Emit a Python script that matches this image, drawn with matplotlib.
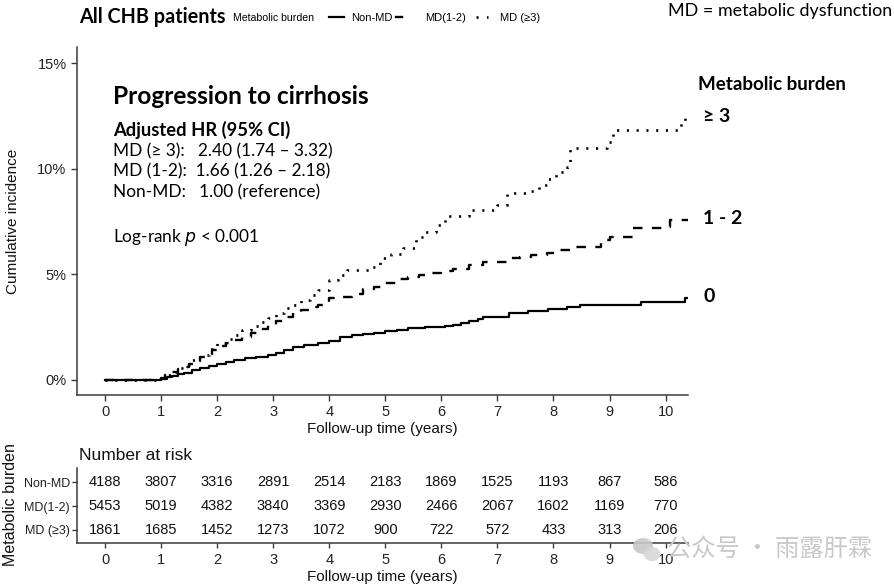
import matplotlib
matplotlib.use("Agg")
import matplotlib.pyplot as plt
from matplotlib.lines import Line2D
from matplotlib.patches import Ellipse
import numpy as np

# ---------------- data ----------------
years = [0, 1, 2, 3, 4, 5, 6, 7, 8, 9, 10]
groups = ["Non-MD", "MD(1-2)", "MD (\u22653)"]

nonmd_t = [0, 1.0, 1.1, 1.2, 1.3, 1.4, 1.55, 1.7, 1.85, 2.0,
           2.15, 2.3, 2.5, 2.7, 2.9, 3.05, 3.2, 3.35, 3.55, 3.8,
           4.0, 4.2, 4.4, 4.6, 4.8, 5.0, 5.2, 5.4, 5.7, 6.07,
           6.2, 6.35, 6.5, 6.65, 6.75, 7.2, 7.55, 7.9, 8.25, 8.47,
           9.57, 10.34]
nonmd_v = [0, 0.05, 0.12, 0.2, 0.28, 0.35, 0.45, 0.55, 0.65, 0.75,
           0.85, 0.95, 1.03, 1.1, 1.18, 1.28, 1.4, 1.58, 1.65, 1.74,
           1.85, 2.02, 2.13, 2.18, 2.23, 2.3, 2.38, 2.45, 2.5, 2.55,
           2.62, 2.7, 2.8, 2.9, 3.0, 3.16, 3.28, 3.35, 3.47, 3.55,
           3.7, 3.87]

md12_t = [0, 1.0, 1.07, 1.2, 1.3, 1.4, 1.5, 1.6, 1.7, 1.8,
          1.9, 2.0, 2.15, 2.3, 2.45, 2.6, 2.75, 2.9, 3.05, 3.2,
          3.35, 3.5, 3.65, 3.8, 4.0, 4.2, 4.4, 4.6, 4.8, 5.0,
          5.2, 5.4, 5.6, 5.8, 6.0, 6.2, 6.5, 6.75, 7.25, 7.4,
          7.6, 7.88, 8.1, 8.29, 8.84, 9.0, 9.41, 9.95, 10.07]
md12_v = [0, 0.1, 0.24, 0.38, 0.5, 0.63, 0.78, 0.92, 1.1, 1.25,
          1.42, 1.6, 1.75, 1.9, 2.05, 2.22, 2.4, 2.6, 2.8, 3.0,
          3.15, 3.3, 3.45, 3.55, 3.86, 3.94, 4.05, 4.3, 4.42, 4.6,
          4.77, 4.89, 4.98, 5.08, 5.17, 5.25, 5.44, 5.6, 5.76, 5.84,
          5.9, 6.0, 6.15, 6.31, 6.63, 6.78, 7.18, 7.26, 7.57]

md3_t = [0, 1.0, 1.07, 1.2, 1.3, 1.4, 1.55, 1.7, 1.85, 2.0,
         2.15, 2.3, 2.45, 2.6, 2.75, 2.9, 3.05, 3.2, 3.35, 3.5,
         3.65, 3.8, 4.0, 4.15, 4.31, 4.72, 4.9, 5.1, 5.31, 5.55,
         5.7, 5.9, 6.06, 6.5, 6.99, 7.17, 7.6, 7.75, 7.9, 8.05,
         8.24, 8.29, 8.95, 9.06, 10.28, 10.34]
md3_v = [0, 0.1, 0.25, 0.4, 0.55, 0.71, 0.95, 1.2, 1.45, 1.74,
         1.95, 2.15, 2.35, 2.55, 2.75, 2.95, 3.15, 3.39, 3.55, 3.79,
         4.0, 4.26, 4.73, 4.95, 5.2, 5.33, 5.76, 5.98, 6.23, 6.78,
         7.0, 7.34, 7.76, 8.05, 8.28, 8.83, 8.95, 9.23, 9.5, 9.86,
         10.1, 10.96, 11.28, 11.83, 12.22, 12.38]

end_time = 10.4

risk_nonmd = [4188, 3807, 3316, 2891, 2514, 2183, 1869, 1525, 1193, 867, 586]
risk_md12 = [5453, 5019, 4382, 3840, 3369, 2930, 2466, 2067, 1602, 1169, 770]
risk_md3 = [1861, 1685, 1452, 1273, 1072, 900, 722, 572, 433, 313, 206]

# ---------------- styling ----------------
W, H = 894, 586
fig = plt.figure(figsize=(W / 100, H / 100), dpi=100)
AX_COL = "#3a3a3a"
SANS = ["Liberation Sans", "DejaVu Sans"]
CAL = ["Lato", "DejaVu Sans"]

def fx(px):
    return px / W

def fy(py):
    return 1 - py / H

solid = dict(color="black", lw=1.6, linestyle="-")
dashed = dict(color="black", lw=1.7, linestyle=(0, (4.0, 4.0)))
dotted = dict(color="black", lw=1.9, linestyle=(0, (0.8, 2.9)))

# ---------------- main axes ----------------
ax = fig.add_axes([fx(77), fy(395), fx(688) - fx(77), fy(47) - fy(395)])
for t, v, st in [(nonmd_t, nonmd_v, solid), (md12_t, md12_v, dashed), (md3_t, md3_v, dotted)]:
    tt = list(t) + [end_time]
    vv = [x / 100 for x in v] + [v[-1] / 100]
    ax.plot(tt, vv, drawstyle="steps-post", **st)

ax.set_xlim(-0.5, 10.4)
ax.set_ylim(-0.0071, 0.1576)
ax.set_xticks(years)
ax.set_yticks([0, 0.05, 0.10, 0.15])
ax.set_yticklabels(["0%", "5%", "10%", "15%"])
for s in ["top", "right"]:
    ax.spines[s].set_visible(False)
for s in ["left", "bottom"]:
    ax.spines[s].set_color(AX_COL)
    ax.spines[s].set_linewidth(1.1)
ax.tick_params(axis="both", colors=AX_COL, length=4, width=1.0, labelcolor="#222222",
               labelsize=10.5)
for lab in ax.get_xticklabels() + ax.get_yticklabels():
    lab.set_family(SANS)
ax.set_xlabel("Follow-up time (years)", fontsize=11, family=SANS, labelpad=2, color="#111111")
ax.set_ylabel("Cumulative incidence", fontsize=11, family=SANS, color="#111111")
ax.yaxis.set_label_coords((20 - 77) / (688 - 77), 0.5)

# annotations in main plot
fig.text(fx(113), fy(97), "Progression to cirrhosis", fontsize=17.6, fontweight="bold",
         family=CAL, va="center", ha="left")
fig.text(fx(113), fy(130), "Adjusted HR (95% CI)", fontsize=13.2, fontweight="bold",
         family=CAL, va="center", ha="left")
fig.text(fx(113), fy(151), "MD (\u2265 3):   2.40 (1.74 \u2013 3.32)", fontsize=12.4,
         family=CAL, va="center", ha="left")
fig.text(fx(113), fy(171), "MD (1-2):  1.66 (1.26 \u2013 2.18)", fontsize=12.4,
         family=CAL, va="center", ha="left")
fig.text(fx(113), fy(192), "Non-MD:   1.00 (reference)", fontsize=12.4,
         family=CAL, va="center", ha="left")
fig.text(fx(113), fy(237), "Log-rank $\\it{p}$ < 0.001", fontsize=12.4,
         family=CAL, va="center", ha="left")

# right-side labels
fig.text(fx(698), fy(84), "Metabolic burden", fontsize=13.5, fontweight="bold",
         family=CAL, va="center", ha="left")
fig.text(fx(703), fy(116), "\u2265 3", fontsize=14, fontweight="bold",
         family=CAL, va="center", ha="left")
fig.text(fx(703), fy(218), "1 - 2", fontsize=14, fontweight="bold",
         family=CAL, va="center", ha="left")
fig.text(fx(703), fy(297), "0", fontsize=14, fontweight="bold",
         family=CAL, va="center", ha="left")

# title + legend strip
fig.text(fx(79), fy(17), "All CHB patients", fontsize=14.2, fontweight="bold",
         family=CAL, va="center", ha="left")
fig.text(fx(233), fy(18), "Metabolic burden", fontsize=7.6, family=SANS,
         va="center", ha="left")
fig.add_artist(Line2D([fx(329), fx(344)], [fy(17), fy(17)], transform=fig.transFigure, **solid))
fig.text(fx(351), fy(18), "Non-MD", fontsize=8, family=SANS, va="center", ha="left")
fig.add_artist(Line2D([fx(396), fx(402)], [fy(17), fy(17)], transform=fig.transFigure,
                      color="black", lw=1.7, linestyle="-"))
fig.text(fx(425), fy(18), "MD(1-2)", fontsize=8, family=SANS, va="center", ha="left")
fig.add_artist(Line2D([fx(476), fx(488)], [fy(17), fy(17)], transform=fig.transFigure,
                      color="black", lw=1.9, linestyle=(0, (0.8, 3.2))))
fig.text(fx(500), fy(18), "MD (\u22653)", fontsize=8, family=SANS, va="center", ha="left")

fig.text(fx(892), fy(11), "MD = metabolic dysfunction", fontsize=12.9, family=CAL,
         va="center", ha="right")

# ---------------- risk table ----------------
tax = fig.add_axes([fx(77), fy(543), fx(688) - fx(77), fy(468) - fy(543)])
tax.set_xlim(-0.5, 10.4)
tax.set_ylim(0.45, 3.6)
rows = [risk_nonmd, risk_md12, risk_md3]
ypos = [3, 2, 1]
for r, y in zip(rows, ypos):
    for x, n in zip(years, r):
        tax.text(x, y, str(n), ha="center", va="center", fontsize=10.5, family=SANS,
                 color="#111111")
tax.set_yticks(ypos)
tax.set_yticklabels(groups)
tax.set_xticks(years)
for s in ["top", "right"]:
    tax.spines[s].set_visible(False)
for s in ["left", "bottom"]:
    tax.spines[s].set_color(AX_COL)
    tax.spines[s].set_linewidth(1.1)
tax.tick_params(axis="both", colors=AX_COL, length=3.5, width=1.0, labelcolor="#222222")
tax.tick_params(axis="y", labelsize=9, pad=1.5)
tax.tick_params(axis="x", labelsize=10.5)
for lab in tax.get_xticklabels() + tax.get_yticklabels():
    lab.set_family(SANS)
tax.set_xlabel("Follow-up time (years)", fontsize=11, family=SANS, labelpad=2, color="#111111")
fig.text(fx(79), fy(456), "Number at risk", fontsize=12.5, family=SANS, va="center", ha="left",
         color="#111111")
fig.text(fx(11), fy(505), "Metabolic burden", fontsize=11.5, family=SANS, rotation=90,
         va="center", ha="center", color="#111111")

# watermark (icon + text)
wm_col = "#c8c8c8"
fig.add_artist(Ellipse((fx(643), fy(546)), fx(20) - fx(0), (fy(0) - fy(16)),
                       transform=fig.transFigure, color=wm_col, alpha=0.9, lw=0))
fig.add_artist(Ellipse((fx(652), fy(554)), fx(17) - fx(0), (fy(0) - fy(14)),
                       transform=fig.transFigure, color="#d8d8d8", alpha=0.9, lw=0))
fig.text(fx(667), fy(549), "\u516c\u4f17\u53f7 \u00b7 \u96e8\u9732\u809d\u9716", fontsize=17.5,
         family=["Noto Sans CJK SC", "DejaVu Sans"], color=wm_col, va="center", ha="left")

fig.savefig("out.png", dpi=100)
